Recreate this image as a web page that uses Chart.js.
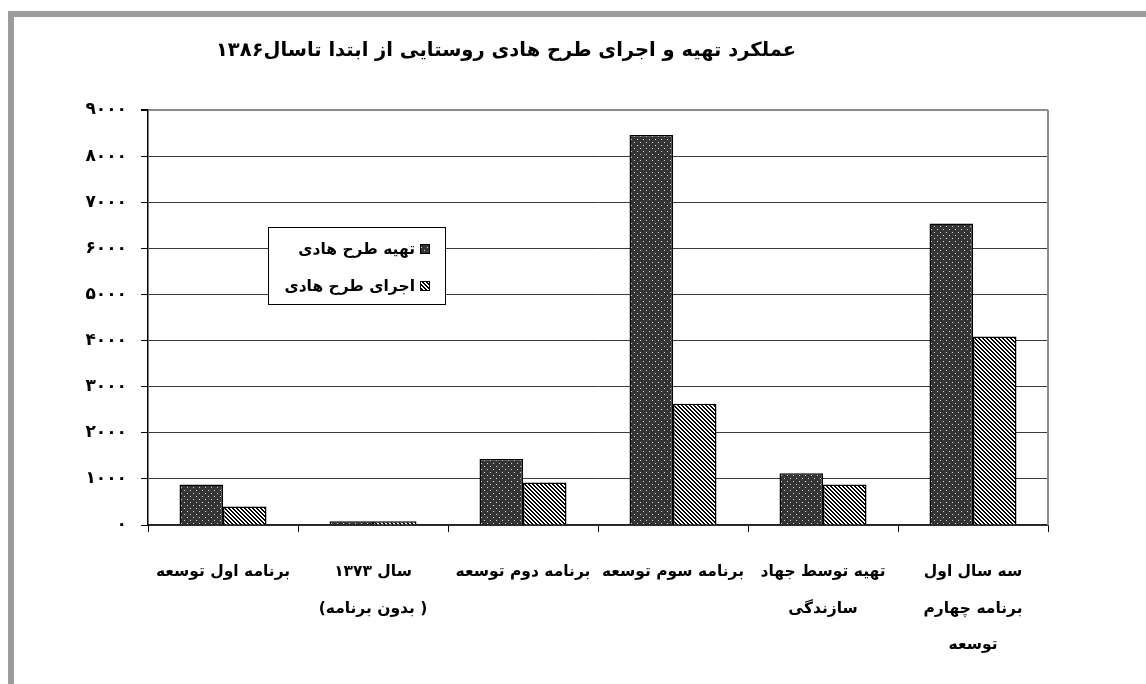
<!DOCTYPE html>
<html lang="fa">
<head>
<meta charset="utf-8">
<title>عملکرد طرح هادی</title>
<script src="https://cdn.jsdelivr.net/npm/chart.js@4.4.1/dist/chart.umd.min.js"></script>
<style>
    html, body { margin: 0; padding: 0; background: #fff; overflow: hidden; }
    #frame {
        position: absolute; left: 8px; top: 11px; right: 0; bottom: 0;
        border-top: 6px solid #9c9c9c; border-left: 6px solid #9c9c9c;
    }
    #wrap { position: absolute; left: 0; top: 0; width: 1146px; height: 684px; }
    canvas { direction: rtl; }
</style>
</head>
<body>
<div id="frame"></div>
<div id="wrap"><canvas id="hadiChart"></canvas></div>
<script>
// Chart data
const chartTitle = 'عملکرد تهیه و اجرای طرح هادی روستایی از ابتدا تاسال۱۳۸۶';
const categories = [
    'برنامه اول توسعه',
    ['سال ۱۳۷۳', '( بدون برنامه)'],
    'برنامه دوم توسعه',
    'برنامه سوم توسعه',
    ['تهیه توسط جهاد', 'سازندگی'],
    ['سه سال اول', 'برنامه چهارم', 'توسعه']
];
const seriesNames = ['تهیه طرح هادی', 'اجرای طرح هادی'];
const preparedValues = [880, 80, 1430, 8460, 1120, 6540];
const executedValues = [400, 80, 920, 2630, 880, 4090];
const yTickLabels = ['۰', '۱۰۰۰', '۲۰۰۰', '۳۰۰۰', '۴۰۰۰', '۵۰۰۰', '۶۰۰۰', '۷۰۰۰', '۸۰۰۰', '۹۰۰۰'];

const FONT = "'DejaVu Sans', sans-serif";

// Build the two fill patterns (dotted dark / diagonal hatch)
function makePattern(kind) {
    const c = document.createElement('canvas');
    const p = c.getContext('2d');
    if (kind === 'dots') {
        c.width = 6; c.height = 6;
        p.fillStyle = '#353535';
        p.fillRect(0, 0, 6, 6);
        p.fillStyle = '#d4d4d4';
        p.fillRect(1, 1, 1, 1);
        p.fillRect(4, 4, 1, 1);
    } else {
        c.width = 4; c.height = 4;
        p.fillStyle = '#fff';
        p.fillRect(0, 0, 4, 4);
        p.fillStyle = '#000';
        for (let y = 0; y < 4; y++) {
            for (let x = 0; x < 4; x++) {
                if ((x - y + 8) % 4 < 2) p.fillRect(x, y, 1, 1);
            }
        }
    }
    return p.createPattern(c, 'repeat');
}

const dotFill = makePattern('dots');
const hatchFill = makePattern('hatch');

// Title, right border and the legend box are drawn by hand
const decorPlugin = {
    id: 'decor',
    beforeDatasetsDraw(chart) {
        const ctx = chart.ctx;
        const area = chart.chartArea;
        ctx.save();
        ctx.strokeStyle = '#8c8c8c';
        ctx.lineWidth = 2;
        ctx.beginPath();
        ctx.moveTo(area.right, area.top);
        ctx.lineTo(area.right, area.bottom);
        ctx.stroke();
        ctx.restore();
    },
    afterDraw(chart) {
        const ctx = chart.ctx;
        ctx.save();
        ctx.fillStyle = '#000';
        ctx.font = 'bold 19.5px ' + FONT;
        ctx.textAlign = 'center';
        ctx.textBaseline = 'middle';
        ctx.fillText(chartTitle, 506, 51);

        // legend
        const box = { x: 268, y: 227, w: 177, h: 77 };
        ctx.fillStyle = '#fff';
        ctx.fillRect(box.x, box.y, box.w, box.h);
        ctx.strokeStyle = '#000';
        ctx.lineWidth = 1;
        ctx.strokeRect(box.x + 0.5, box.y + 0.5, box.w, box.h);
        ctx.font = 'bold 15.5px ' + FONT;
        ctx.textAlign = 'right';
        chart.data.datasets.forEach(function(ds, i) {
            const cy = 250 + i * 37;
            ctx.fillStyle = ds.backgroundColor;
            ctx.fillRect(420, cy - 6, 10, 10);
            ctx.strokeStyle = '#000';
            ctx.strokeRect(420.5, cy - 5.5, 9, 9);
            ctx.fillStyle = '#000';
            ctx.fillText(ds.label, 415, cy);
        });
        ctx.restore();
    }
};

const ctx = document.getElementById('hadiChart').getContext('2d');

const hadiChart = new Chart(ctx, {
    type: 'bar',
    data: {
        labels: categories,
        datasets: [{
            label: seriesNames[0],
            data: preparedValues,
            backgroundColor: dotFill,
            borderColor: '#000',
            borderWidth: 1.5
        }, {
            label: seriesNames[1],
            data: executedValues,
            backgroundColor: hatchFill,
            borderColor: '#000',
            borderWidth: 1.5
        }]
    },
    options: {
        responsive: true,
        maintainAspectRatio: false,
        animation: false,
        layout: {
            padding: { top: 110, right: 98, left: 0, bottom: 0 }
        },
        datasets: {
            bar: { categoryPercentage: 0.58, barPercentage: 1 }
        },
        scales: {
            x: {
                afterFit: function(scale) { scale.height = 159; },
                grid: {
                    offset: true,
                    drawOnChartArea: false,
                    drawTicks: true,
                    tickLength: 7,
                    color: '#000',
                    tickColor: '#000'
                },
                border: { display: true, color: '#222', width: 1.5 },
                ticks: {
                    color: '#000',
                    padding: 22,
                    maxRotation: 0,
                    autoSkip: false,
                    font: { family: FONT, size: 15.5, weight: 'bold', lineHeight: 2.35 }
                }
            },
            y: {
                min: 0,
                max: 9000,
                afterFit: function(scale) { scale.width = 148; },
                grid: {
                    color: function(c) { return c.tick && c.tick.value === 9000 ? '#8c8c8c' : '#3a3a3a'; },
                    lineWidth: function(c) { return c.tick && c.tick.value === 9000 ? 2 : 1; },
                    tickLength: 7,
                    tickColor: '#000'
                },
                border: { display: true, color: '#000', width: 1.5 },
                ticks: {
                    stepSize: 1000,
                    color: '#000',
                    padding: 14,
                    font: { family: FONT, size: 17, weight: 'bold' },
                    callback: function(value, index) { return yTickLabels[index]; }
                }
            }
        },
        plugins: {
            legend: { display: false },
            title: { display: false },
            tooltip: { enabled: false }
        }
    },
    plugins: [decorPlugin]
});
</script>
</body>
</html>
